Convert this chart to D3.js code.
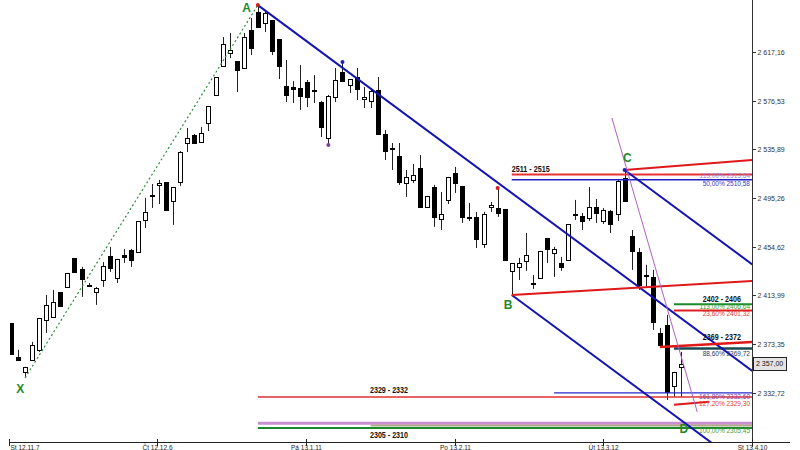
<!DOCTYPE html>
<html><head><meta charset="utf-8">
<script src="https://cdn.jsdelivr.net/npm/d3@7"></script>
<style>html,body{margin:0;padding:0;background:#fff;}svg{display:block}</style>
</head><body>
<svg id="c" width="800" height="450"></svg>
<script>
// ---------- DATA ----------
const opens  = [2391.1,2362.7,2350.2,2360.2,2368.6,2393.6,2396.1,2416.9,2421.1,2445.3,2436.1,2422.8,2416.9,2426.9,2446.9,2428.6,2447.8,2451.9,2450.3,2477.0,2497.9,2506.2,2508.7,2492.9,2508.7,2541.2,2547.9,2542.1,2557.9,2581.3,2605.5,2616.3,2609.6,2603.8,2635.5,2650.5,2641.3,2643.8,2628.0,2588.8,2587.9,2587.1,2592.1,2585.4,2575.4,2545.4,2579.6,2600.5,2589.6,2596.3,2577.9,2576.3,2585.4,2548.7,2537.0,2530.4,2507.9,2510.4,2520.4,2487.8,2504.5,2477.8,2493.7,2516.2,2505.4,2479.5,2479.5,2457.0,2487.8,2487.0,2486.2,2434.5,2437.8,2442.8,2424.4,2428.6,2462.0,2449.5,2441.1,2443.6,2482.0,2480.3,2478.6,2487.8,2476.1,2484.5,2482.0,2512.0,2463.6,2450.3,2431.1,2429.4,2382.7,2389.4,2338.5,2354.4];
const highs  = [2391.1,2368.6,2354.4,2375.2,2395.2,2414.4,2418.6,2416.9,2432.8,2445.3,2437.8,2424.4,2421.1,2441.9,2454.5,2444.5,2452.8,2452.8,2476.1,2495.4,2507.0,2510.4,2508.7,2504.5,2534.5,2553.7,2548.7,2554.6,2572.1,2596.3,2629.6,2633.0,2609.6,2633.0,2645.5,2656.3,2650.5,2643.8,2628.0,2610.5,2592.9,2606.3,2593.8,2597.9,2576.3,2581.3,2603.8,2608.8,2594.6,2603.8,2587.9,2587.1,2596.3,2552.1,2541.2,2541.2,2518.7,2523.7,2531.2,2497.0,2506.2,2500.3,2512.9,2521.2,2505.4,2491.2,2483.7,2483.7,2492.0,2503.7,2486.2,2441.1,2445.3,2466.1,2431.1,2451.1,2462.0,2454.5,2446.1,2473.6,2493.7,2482.8,2504.5,2494.5,2487.0,2485.3,2510.4,2518.7,2468.6,2453.6,2439.5,2435.3,2386.9,2397.7,2350.2,2366.9];
const lows   = [2365.2,2360.2,2345.2,2360.2,2366.9,2382.7,2396.1,2405.2,2420.3,2432.8,2412.8,2421.1,2406.1,2421.1,2433.6,2424.4,2441.1,2437.8,2450.3,2470.3,2487.0,2490.3,2485.3,2472.8,2505.4,2533.7,2541.2,2542.1,2551.2,2581.3,2604.6,2612.1,2583.8,2603.8,2614.6,2638.0,2633.8,2614.6,2594.6,2575.4,2574.6,2568.8,2571.2,2574.6,2546.2,2539.6,2575.4,2592.9,2582.9,2577.1,2570.4,2570.4,2548.7,2527.0,2518.7,2506.2,2496.2,2507.9,2487.8,2487.8,2471.2,2468.6,2490.3,2499.5,2474.5,2476.1,2453.6,2453.6,2483.7,2479.5,2443.6,2414.4,2426.9,2434.5,2419.4,2428.6,2441.1,2429.4,2434.5,2443.6,2477.0,2468.6,2476.1,2474.5,2473.6,2466.1,2476.1,2492.9,2435.3,2418.6,2421.1,2385.2,2372.7,2326.8,2329.3,2329.3];
const closes = [2365.2,2360.2,2354.4,2372.7,2395.2,2406.1,2408.6,2405.2,2432.8,2433.6,2427.8,2421.9,2420.3,2438.6,2437.0,2444.5,2446.1,2443.6,2476.1,2483.7,2497.4,2507.9,2485.3,2504.5,2533.7,2545.4,2541.2,2549.6,2572.1,2596.3,2623.8,2618.8,2602.1,2629.6,2620.5,2638.0,2649.7,2618.0,2605.5,2581.3,2586.3,2580.4,2579.6,2584.6,2554.6,2580.4,2593.8,2592.9,2594.6,2586.3,2579.6,2584.6,2548.7,2534.5,2536.6,2508.7,2512.9,2514.5,2487.8,2497.0,2479.5,2482.0,2512.9,2507.9,2479.5,2479.2,2461.1,2482.0,2489.5,2482.8,2443.6,2441.1,2441.1,2447.8,2424.0,2451.1,2452.8,2452.8,2437.8,2473.6,2481.6,2476.1,2487.8,2482.8,2485.3,2473.6,2509.5,2492.9,2451.1,2422.8,2430.3,2391.9,2372.7,2333.5,2350.2,2357.0];

const priceTicks = [2332.72, 2373.35, 2413.99, 2454.62, 2495.26, 2535.89, 2576.53, 2617.16];
const dateTickLabels = ["St 12.11.7", "Čt 12.12.6", "Pá 13.1.11", "Po 13.2.11", "Út 13.3.12", "St 13.4.10"];
const dateTickIndex  = [-0.3, 20.7, 41.8, 63.0, 84.0, 105.1];

// pattern pivots (label anchors)
const pivotNames = ["X", "A", "B", "C", "D"];
const pivotIndex = [1.3, 33.4, 70.5, 87.4, 95.4];
const pivotPrice = [2332.7, 2650.3, 2402.7, 2525.4, 2299.5];

// trend lines [index1, price1, index2, price2]
const trendNames = ["XA", "chanTop", "chanLow", "chanC", "redC", "redB", "red2372", "redLow", "fan"];
const trendLines = [
  [2, 2345.2, 35, 2656.3],
  [35, 2656.3, 105.1, 2351.0],
  [71, 2414.4, 105.1, 2265.9],
  [87, 2518.7, 105.1, 2439.9],
  [87, 2518.7, 105.1, 2527.0],
  [71, 2414.4, 105.1, 2426.1],
  [92, 2371.0, 105.1, 2375.2],
  [94, 2322.7, 99, 2325.2],
  [85.2, 2562.1, 97.3, 2316.8]
];

// horizontal levels
const levelNames = ["r2515", "b2510", "g2406", "r2401", "t2369", "b2332", "r2329", "p2307", "y2305", "g2303"];
const levelPrices = [2515.0, 2510.58, 2406.64, 2401.32, 2369.72, 2332.7, 2329.3, 2307.4, 2305.45, 2303.3];
const levelFrom   = [71, 71, 94, 94, 94, 77, 35, 35, 51, 35];

// zone labels
const zoneLabels = ["2511 - 2515", "2402 - 2406", "2369 - 2372", "2329 - 2332", "2305 - 2310"];
const zoneIndex  = [71.0, 98.1, 98.1, 50.9, 50.9];
const zonePrice  = [2517.0, 2408.6, 2376.9, 2332.9, 2295.1];

// fibonacci texts (right aligned)
const fibNames  = ["f1", "f2", "f3", "f4", "f5", "f6", "f7", "f8"];
const fibTexts  = ["113,00% 2513,64", "50,00% 2510,58", "113,00% 2406,64", "23,60% 2401,32", "88,60% 2369,72", "161,80% 2332,60", "127,20% 2329,30", "100,00% 2305,45"];
const fibPrices = [2512.0, 2505.3, 2402.7, 2396.9, 2363.5, 2327.3, 2321.5, 2299.3];

// small markers
const markerIndex = [35, 45, 47, 69, 87];
const markerPrice = [2656.3, 2539.6, 2608.8, 2503.7, 2518.7];

// ---------- STYLES ----------
const trendStyle = {
  XA: {c: "#2e8b3e", w: 1.2, dash: "2,2.5"},
  chanTop: {c: "#1414b4", w: 2}, chanLow: {c: "#1414b4", w: 2}, chanC: {c: "#1414b4", w: 2},
  redC: {c: "#e01818", w: 2}, redB: {c: "#e01818", w: 2}, red2372: {c: "#e01818", w: 2.5},
  redLow: {c: "#e01818", w: 2}, fan: {c: "#b060c0", w: 1}
};
const levelStyle = {
  r2515: {c: "#e83030", w: 2}, b2510: {c: "#2020c0", w: 1.5}, g2406: {c: "#1a8a2a", w: 2},
  r2401: {c: "#e02020", w: 2}, t2369: {c: "#1a4a50", w: 2.5}, b2332: {c: "#2a2ad0", w: 1.2},
  r2329: {c: "#e03030", w: 1.5}, p2307: {c: "#c890d0", w: 3}, y2305: {c: "#b0a888", w: 2},
  g2303: {c: "#1a8a2a", w: 2}
};
const fibColor = {f1: "#8a8ae0", f2: "#3838c8", f3: "#30a030", f4: "#e03a3a", f5: "#1a3a70", f6: "#8040b0", f7: "#e04040", f8: "#40a040"};
const markerColor = ["#d02020", "#8040a0", "#2020c0", "#d02020", "#2020c0"];

// ---------- CHART ----------
const svg = d3.select("#c");
const axisX = 752, axisY = 442;
const x = d3.scaleLinear().domain([0, 95]).range([11, 681]);
const y = d3.scaleLinear().domain([2332.72, 2617.16]).range([392.8, 52]);
const loc = d3.formatLocale({decimal: ",", thousands: " ", grouping: [3], currency: ["", ""]});
const fmt = loc.format(",.2f");

svg.append("defs").append("clipPath").attr("id", "clip")
  .append("rect").attr("x", 10).attr("y", 0).attr("width", axisX - 10).attr("height", axisY);

const plot = svg.append("g").attr("clip-path", "url(#clip)");

const candles = opens.map((o, i) => ({i, o, h: highs[i], l: lows[i], c: closes[i]}));

plot.selectAll("line.wick").data(candles).join("line").attr("class", "wick")
  .attr("x1", d => Math.round(x(d.i)) + 0.5).attr("x2", d => Math.round(x(d.i)) + 0.5)
  .attr("y1", d => y(d.h)).attr("y2", d => y(d.l))
  .attr("stroke", "#222").attr("stroke-width", 1);

plot.selectAll("rect.body").data(candles).join("rect").attr("class", "body")
  .attr("x", d => Math.round(x(d.i)) - 1.5).attr("width", 4)
  .attr("y", d => Math.round(y(Math.max(d.o, d.c))) + 0.5)
  .attr("height", d => Math.max(1, Math.round(Math.abs(y(d.o) - y(d.c)))))
  .attr("fill", d => d.c < d.o ? "#000" : "#fff")
  .attr("stroke", "#000").attr("stroke-width", 1);

// horizontal levels
const levels = levelNames.map((n, k) => ({n, p: levelPrices[k], f: levelFrom[k]}));
plot.selectAll("line.level").data(levels).join("line").attr("class", "level")
  .attr("x1", d => x(d.f)).attr("x2", axisX)
  .attr("y1", d => y(d.p)).attr("y2", d => y(d.p))
  .attr("stroke", d => levelStyle[d.n].c).attr("stroke-width", d => levelStyle[d.n].w);

// trend lines
const trends = trendNames.map((n, k) => ({n, v: trendLines[k]}));
plot.selectAll("line.trend").data(trends).join("line").attr("class", "trend")
  .attr("x1", d => x(d.v[0])).attr("y1", d => y(d.v[1]))
  .attr("x2", d => x(d.v[2])).attr("y2", d => y(d.v[3]))
  .attr("stroke", d => trendStyle[d.n].c).attr("stroke-width", d => trendStyle[d.n].w)
  .attr("stroke-dasharray", d => trendStyle[d.n].dash || null);

// markers
plot.selectAll("circle.mk").data(markerIndex).join("circle").attr("class", "mk")
  .attr("cx", d => x(d)).attr("cy", (d, k) => y(markerPrice[k])).attr("r", 2)
  .attr("fill", (d, k) => markerColor[k]);

// zone labels
svg.selectAll("text.zone").data(zoneLabels).join("text").attr("class", "zone")
  .attr("x", (d, k) => x(zoneIndex[k])).attr("y", (d, k) => y(zonePrice[k]))
  .attr("font-family", "'Liberation Sans Narrow','Liberation Sans',Arial,sans-serif")
  .attr("font-weight", "bold").attr("font-size", 9.5).attr("fill", "#111")
  .attr("textLength", 38).attr("lengthAdjust", "spacingAndGlyphs")
  .text(d => d);

// fib texts
svg.selectAll("text.fib").data(fibNames).join("text").attr("class", "fib")
  .attr("x", axisX - 2).attr("y", (d, k) => y(fibPrices[k]))
  .attr("text-anchor", "end")
  .attr("font-family", "'Liberation Sans',Arial,sans-serif").attr("font-size", 6.5)
  .attr("fill", d => fibColor[d])
  .text((d, k) => fibTexts[k]);

// pivot letters
svg.selectAll("text.pv").data(pivotNames).join("text").attr("class", "pv")
  .attr("x", (d, k) => x(pivotIndex[k])).attr("y", (d, k) => y(pivotPrice[k]))
  .attr("text-anchor", "middle")
  .attr("font-family", "'Liberation Sans',Arial,sans-serif").attr("font-size", 12)
  .attr("font-weight", "bold").attr("fill", "#1f8a2a").text(d => d);

// ---------- AXES ----------
svg.append("line").attr("x1", axisX + 0.5).attr("x2", axisX + 0.5).attr("y1", 0).attr("y2", 447)
  .attr("stroke", "#333").attr("stroke-width", 1);
const yt = svg.append("g").selectAll("g").data(priceTicks).join("g")
  .attr("transform", d => `translate(${axisX},${Math.round(y(d)) + 0.5})`);
yt.append("line").attr("x1", 0).attr("x2", 4).attr("stroke", "#333");
yt.append("text").attr("x", 5.5).attr("dy", "0.35em")
  .attr("font-family", "'Liberation Sans',Arial,sans-serif").attr("font-size", 7)
  .attr("fill", "#333").text(d => fmt(d));

// current price box
const last = closes[closes.length - 1];
const cy = Math.round(y(last));
svg.append("rect").attr("x", axisX + 1.5).attr("y", cy - 6.5).attr("width", 33).attr("height", 13)
  .attr("fill", "#e4e4e4").attr("stroke", "#222").attr("stroke-width", 1);
svg.append("text").attr("x", axisX + 4).attr("y", cy).attr("dy", "0.35em")
  .attr("font-family", "'Liberation Sans',Arial,sans-serif").attr("font-size", 7)
  .attr("fill", "#111").text(fmt(last));

// x axis
svg.append("line").attr("x1", 9).attr("x2", 790).attr("y1", axisY + 0.5).attr("y2", axisY + 0.5)
  .attr("stroke", "#222").attr("stroke-width", 1);
const xt = svg.append("g").selectAll("g").data(dateTickIndex).join("g")
  .attr("transform", d => `translate(${Math.round(x(d)) + 0.5},0)`);
xt.append("line").attr("y1", axisY - 3).attr("y2", axisY + 4).attr("stroke", "#222");
xt.append("text").attr("y", 449.5)
  .attr("text-anchor", (d, k) => k === 0 ? "start" : "middle")
  .attr("x", (d, k) => k === 0 ? 1 : 0)
  .attr("font-family", "'Liberation Sans',Arial,sans-serif").attr("font-size", 6.5)
  .attr("fill", "#222").text((d, k) => dateTickLabels[k]);
</script>
</body></html>
